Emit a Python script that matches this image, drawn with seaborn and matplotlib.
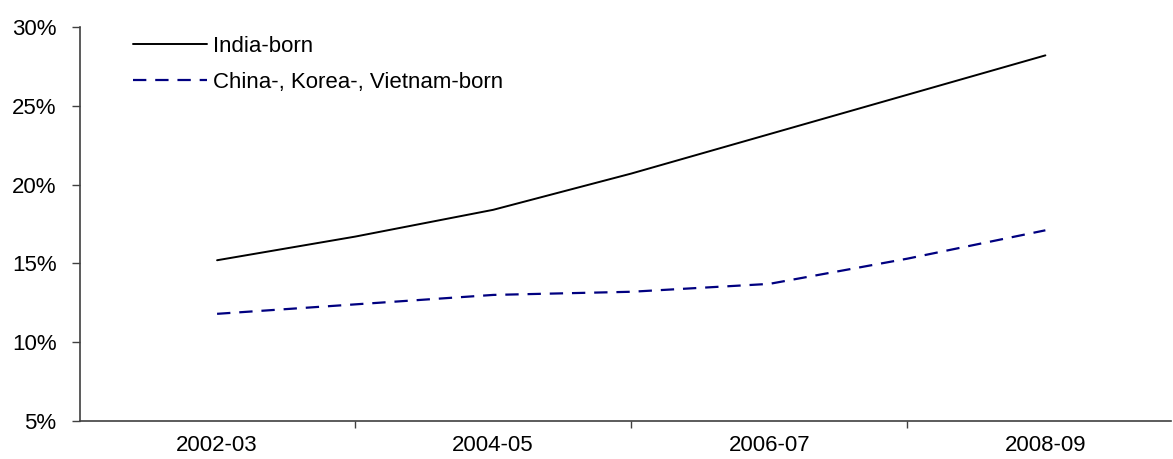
import matplotlib
matplotlib.use("Agg")
import matplotlib.pyplot as plt
import seaborn as sns
import pandas as pd
from matplotlib.ticker import FixedLocator, FuncFormatter
from matplotlib.lines import Line2D

years = ["2002-03", "2003-04", "2004-05", "2005-06", "2006-07", "2007-08", "2008-09"]
india_born = [15.2, 16.7, 18.4, 20.7, 23.2, 25.7, 28.2]
ckv_born = [11.8, 12.4, 13.0, 13.2, 13.7, 15.3, 17.1]
tick_labels = ["2002-03", "2004-05", "2006-07", "2008-09"]
series_names = ["India-born", "China-, Korea-, Vietnam-born"]

sns.set_theme(style="white")
plt.rcParams['font.family'] = ['Liberation Sans', 'DejaVu Sans']
plt.rcParams['text.color'] = 'black'

df = pd.DataFrame({
    "pos": list(range(len(years))) * 2,
    "year": years * 2,
    "value": india_born + ckv_born,
    "series": [series_names[0]] * len(years) + [series_names[1]] * len(years),
})

fig = plt.figure(figsize=(11.73, 4.59), dpi=100)
ax = fig.add_axes([80 / 1173, 1 - 421 / 459, (1171 - 80) / 1173, (421 - 27) / 459])

sns.lineplot(
    data=df, x="pos", y="value", hue="series", style="series",
    palette={series_names[0]: "black", series_names[1]: "#000080"},
    dashes={series_names[0]: "", series_names[1]: (6, 4)},
    ax=ax, legend=False, estimator=None,
)
ax.lines[0].set_linewidth(1.4)
ax.lines[1].set_linewidth(1.6)

ax.set_xlim(-0.993, 6.91)
ax.set_ylim(5, 30)
ax.set_yticks([5, 10, 15, 20, 25, 30])
ax.yaxis.set_major_formatter(FuncFormatter(lambda v, p: f"{v:.0f}%"))

ax.xaxis.set_major_locator(FixedLocator([1, 3, 5]))
ax.xaxis.set_major_formatter(FuncFormatter(lambda v, p: ""))
ax.set_xticks([0, 2, 4, 6], tick_labels, minor=True)
ax.tick_params(axis="x", which="major", direction="out", length=5, width=1, color="#404040", bottom=True)
ax.tick_params(axis="x", which="minor", length=0, labelsize=16, pad=10, labelcolor="black", bottom=True)
ax.tick_params(axis="y", which="major", direction="out", length=6, width=1, color="#404040", left=True,
               labelsize=16, pad=11, labelcolor="black")

ax.set_xlabel("")
ax.set_ylabel("")
for s in ["top", "right"]:
    ax.spines[s].set_visible(False)
for s in ["left", "bottom"]:
    ax.spines[s].set_visible(True)
    ax.spines[s].set_color("#404040")
    ax.spines[s].set_linewidth(1.2)
ax.grid(False)

handles = [
    Line2D([], [], color="black", lw=1.4),
    Line2D([], [], color="#000080", lw=1.6, dashes=(6, 4)),
]
leg = ax.legend(handles, series_names, loc="upper left", bbox_to_anchor=((133 - 80) / 1091, (421 - 36) / 394),
                frameon=False, fontsize=16, handlelength=3.35, handletextpad=0.25, labelspacing=0.68,
                borderpad=0, borderaxespad=0)
for t in leg.get_texts():
    t.set_color("black")

fig.savefig("out.png", dpi=100, facecolor="white")
